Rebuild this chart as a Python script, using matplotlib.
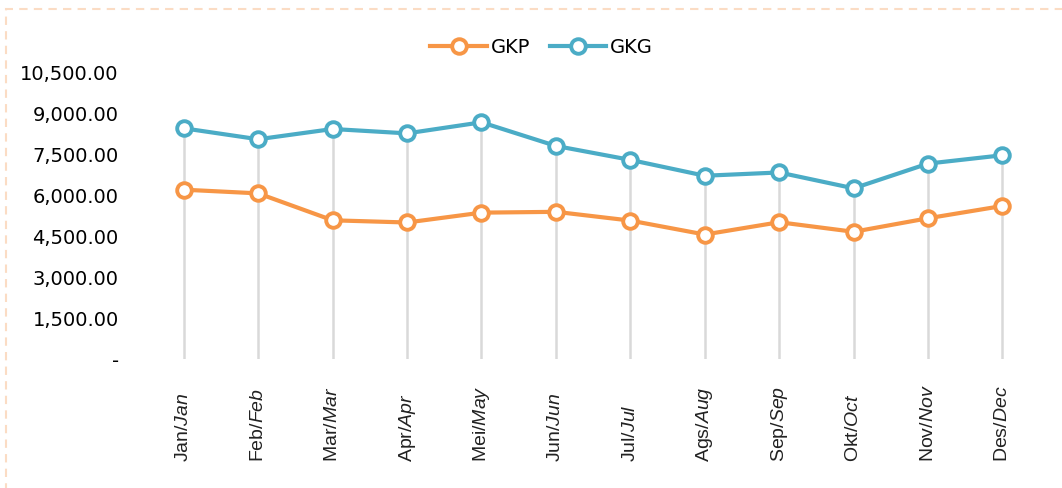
import numpy as np
import matplotlib.pyplot as plt
from matplotlib.patches import Rectangle
from matplotlib import font_manager

months_id = ['Jan', 'Feb', 'Mar', 'Apr', 'Mei', 'Jun', 'Jul', 'Ags', 'Sep', 'Okt', 'Nov', 'Des']
months_en = ['Jan', 'Feb', 'Mar', 'Apr', 'May', 'Jun', 'Jul', 'Aug', 'Sep', 'Oct', 'Nov', 'Dec']

gkp = [6190, 6055, 5070, 4990, 5350, 5380, 5060, 4550, 5000, 4650, 5145, 5595]
gkg = [8435, 8035, 8410, 8250, 8655, 7790, 7280, 6700, 6820, 6240, 7145, 7450]

yticks = [0, 1500, 3000, 4500, 6000, 7500, 9000, 10500]

orange = '#F79646'
blue = '#4BACC6'

names = {f.name for f in font_manager.fontManager.ttflist}
narrow = 'Liberation Sans Narrow' if 'Liberation Sans Narrow' in names else 'Liberation Sans'
plt.rcParams['mathtext.fontset'] = 'custom'
plt.rcParams['mathtext.rm'] = narrow
plt.rcParams['mathtext.it'] = narrow + ':italic'

fig = plt.figure(figsize=(10.62, 4.89), dpi=100)
ax = fig.add_axes([0.138, 0.264, 0.841, 0.587])

x = np.arange(len(months_id))
ax.vlines(x, 0, np.maximum(gkp, gkg), color='#d9d9d9', lw=1.8, zorder=1)
ax.plot(x, gkp, color=orange, lw=3, marker='o', ms=10.5, mfc='white', mew=2.8,
        label='GKP', zorder=3)
ax.plot(x, gkg, color=blue, lw=3, marker='o', ms=10.5, mfc='white', mew=2.8,
        label='GKG', zorder=3)

ax.set_xlim(-0.5, len(months_id) - 0.5)
ax.set_ylim(0, 10500)
ax.set_yticks(yticks)
ax.set_yticklabels(['-' if v == 0 else f'{v:,.2f}' for v in yticks],
                   fontsize=14, family='DejaVu Sans', color='black')
ax.tick_params(axis='y', length=0, pad=20)
ax.set_xticks(x)
ax.set_xticklabels([])
ax.tick_params(axis='x', length=0)
for s in ax.spines.values():
    s.set_visible(False)

for i, (a, b) in enumerate(zip(months_id, months_en)):
    ax.text(i, 0, a + '/$\\mathit{' + b + '}$', transform=ax.get_xaxis_transform(),
            rotation=90, ha='center', va='bottom', fontsize=14, family=narrow,
            color='#222222')
for t in ax.texts:
    t.set_y(-(0.264 - 0.055) / 0.587)

leg = fig.legend(loc='center', bbox_to_anchor=(0.51, 0.902), ncol=2, frameon=False,
                 handlelength=2.9, columnspacing=1.0, handletextpad=0.2,
                 prop={'family': 'DejaVu Sans', 'size': 14})

fig.patches.append(Rectangle((6 / 1062, -0.1), 1.2, 1.1 - 10 / 489, transform=fig.transFigure,
                             fill=False, ec='#fbdcc4', lw=1.5, ls=(0, (4, 3))))

fig.savefig('out.png', dpi=100)
